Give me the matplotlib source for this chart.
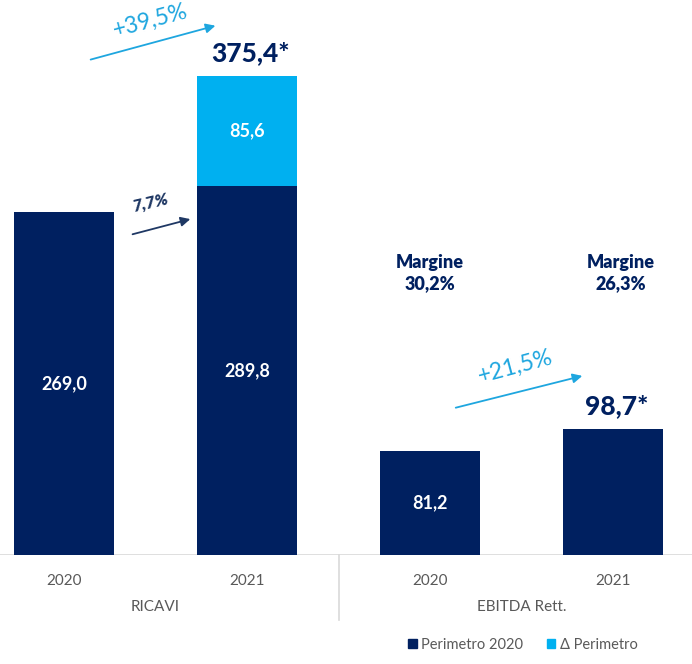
import numpy as np
import matplotlib.pyplot as plt
from matplotlib.patches import Patch

# Data
years = ['2020', '2021', '2020', '2021']
groups = ['RICAVI', 'EBITDA Rett.']
base_values = [269.0, 289.8, 81.2, 98.7]      # Perimetro 2020
delta_values = [0.0, 85.6, 0.0, 0.0]          # Δ Perimetro
base_labels = ['269,0', '289,8', '81,2', '']
delta_labels = ['', '85,6', '', '']
total_labels = ['', '375,4*', '', '98,7*']
margins = ['', '', 'Margine\n30,2%', 'Margine\n26,3%']

NAVY = '#002060'
LIGHT = '#00B0F0'
ARROW_LIGHT = '#1EA6DF'
GREY = '#595959'

plt.rcParams['font.family'] = ['Lato', 'DejaVu Sans']

fig = plt.figure(figsize=(6.92, 6.64), dpi=100)
ax = fig.add_axes([0, 109 / 664, 1, 555 / 664])

x = np.arange(len(years))
width = 0.546
ax.bar(x, base_values, width, color=NAVY, zorder=2)
ax.bar(x, delta_values, width, bottom=base_values, color=LIGHT, zorder=2)

ax.set_xlim(-64 / 183, 628 / 183)
ax.set_ylim(0, 555 / 1.275)

# Bar labels
for i in x:
    if base_labels[i]:
        ax.text(i, base_values[i] / 2, base_labels[i], ha='center', va='center',
                color='white', fontsize=13, fontweight='bold')
    if delta_labels[i]:
        ax.text(i, base_values[i] + delta_values[i] / 2, delta_labels[i],
                ha='center', va='center', color='white', fontsize=13,
                fontweight='bold')
    if total_labels[i]:
        top = base_values[i] + delta_values[i]
        ax.text(i + 0.02, top + 9, total_labels[i], ha='center', va='bottom',
                color=NAVY, fontsize=19, fontweight='black')
    if margins[i]:
        xm = i if i == 2 else i + 0.04
        ax.text(xm, 221, margins[i], ha='center', va='center', color=NAVY,
                fontsize=13, fontweight='heavy', linespacing=1.3)

# Growth arrows
def growth(x0, y0, x1, y1, label, tx, ty, color, size, rot, weight='normal',
           style='normal'):
    ax.annotate('', xy=(x1, y1), xytext=(x0, y0),
                arrowprops=dict(arrowstyle='-|>', color=color, lw=1.3,
                                mutation_scale=14), zorder=3)
    ax.text(tx, ty, label, ha='center', va='center', color=color,
            fontsize=size, rotation=rot, fontweight=weight, style=style)

growth(0.131, 388, 0.842, 415.7, '+39,5%', 0.47, 419, ARROW_LIGHT, 16.5, 15)
growth(0.36, 251, 0.705, 264, '7,7%', 0.47, 276, '#1F3864', 12, 13,
       weight='heavy', style='italic')
growth(2.126, 115, 2.847, 141, '+21,5%', 2.464, 147.5, ARROW_LIGHT, 16.5, 15)

# Axes styling
for s in ax.spines.values():
    s.set_visible(False)
ax.axhline(0, color='#d9d9d9', lw=1.2, zorder=1)
ax.set_yticks([])
ax.set_xticks(x)
ax.set_xticklabels(years, fontsize=11, color=GREY)
ax.tick_params(axis='x', length=0, pad=14)

trans = ax.get_xaxis_transform()
for g, label in enumerate(groups):
    ax.text(0.5 + 2 * g, -52 / 555, label, transform=trans, ha='center',
            va='center', fontsize=11, color=GREY)
ax.plot([1.5, 1.5], [0, -65 / 555], transform=trans, color='#d9d9d9',
        lw=1.2, clip_on=False)

handles = [Patch(color=NAVY, label='Perimetro 2020'),
           Patch(color=LIGHT, label='Δ Perimetro')]
fig.legend(handles=handles, loc='center', bbox_to_anchor=(523 / 692, 1 - 645 / 664),
           ncol=2, frameon=False, fontsize=10.5, handlelength=0.6,
           handleheight=0.6, handletextpad=0.3, columnspacing=1.6,
           labelcolor=GREY)

fig.savefig('out.png', dpi=100)
